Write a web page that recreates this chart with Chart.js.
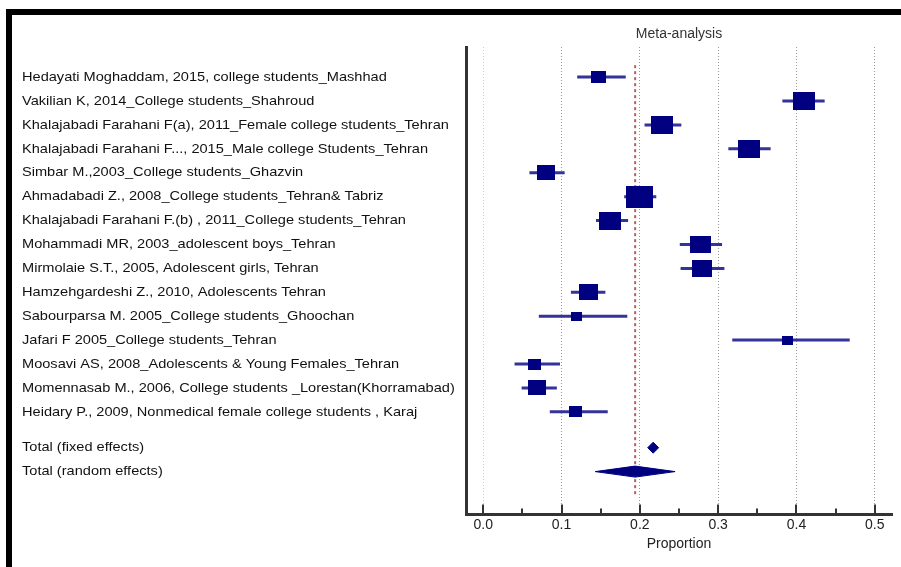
<!DOCTYPE html>
<html>
<head>
<meta charset="utf-8">
<script src="https://cdn.jsdelivr.net/npm/chart.js@4.4.1/dist/chart.umd.min.js"></script>
<style>
  html, body { margin: 0; padding: 0; background: #fff; }
  #wrap { position: relative; width: 901px; height: 567px; }
  #frame { position: absolute; left: 6px; top: 9px; right: 0; bottom: 0;
           border-top: 6px solid #000; border-left: 6px solid #000; pointer-events: none; }
</style>
</head>
<body>
<div id="wrap">
  <canvas id="forest"></canvas>
  <div id="frame"></div>
</div>
<script>
// estudos (linhas do forest plot)
const studyLabels = [
    "Hedayati Moghaddam, 2015, college students_Mashhad",
    "Vakilian K, 2014_College students_Shahroud",
    "Khalajabadi Farahani F(a), 2011_Female college students_Tehran",
    "Khalajabadi Farahani F..., 2015_Male college Students_Tehran",
    "Simbar M.,2003_College students_Ghazvin",
    "Ahmadabadi Z., 2008_College students_Tehran& Tabriz",
    "Khalajabadi Farahani F.(b) , 2011_College students_Tehran",
    "Mohammadi MR, 2003_adolescent boys_Tehran",
    "Mirmolaie S.T., 2005, Adolescent girls, Tehran",
    "Hamzehgardeshi Z., 2010, Adolescents Tehran",
    "Sabourparsa M. 2005_College students_Ghoochan",
    "Jafari F 2005_College students_Tehran",
    "Moosavi AS, 2008_Adolescents & Young Females_Tehran",
    "Momennasab M., 2006, College students _Lorestan(Khorramabad)",
    "Heidary P., 2009, Nonmedical female college students , Karaj"
];
const proportion = [0.147, 0.409, 0.228, 0.339, 0.080, 0.200, 0.162, 0.277, 0.280, 0.134, 0.119, 0.389, 0.065, 0.069, 0.118];
const ciLower    = [0.120, 0.382, 0.206, 0.313, 0.059, 0.180, 0.144, 0.251, 0.252, 0.112, 0.071, 0.318, 0.040, 0.049, 0.085];
const ciUpper    = [0.182, 0.436, 0.253, 0.367, 0.104, 0.221, 0.185, 0.305, 0.308, 0.156, 0.184, 0.468, 0.098, 0.094, 0.159];
const weights    = [4.2, 9.1, 9.1, 9.1, 6.1, 13.7, 9.1, 8.3, 7.5, 6.8, 2.3, 2.3, 3.2, 6.1, 3.2];

// totais
const totalLabels = ["Total (fixed effects)", "Total (random effects)"];
const totalEst    = [0.217, 0.194];
const totalLower  = [0.210, 0.143];
const totalUpper  = [0.224, 0.245];

const xTicks = [0.0, 0.1, 0.2, 0.3, 0.4, 0.5];

const NAVY = '#000080';
const totalRows = [studyLabels.length + 0.5, studyLabels.length + 1.5];

// quadrados proporcionais ao peso (área ~ peso)
function weightBox(w) {
    const maxW = Math.max(...weights);
    const side = 27 * Math.sqrt(w / maxW);
    const c = document.createElement('canvas');
    c.width = Math.round(side);
    c.height = Math.round(side * 0.83);
    const g = c.getContext('2d');
    g.fillStyle = NAVY;
    g.fillRect(0, 0, c.width, c.height);
    return c;
}

const ciData = [];
proportion.forEach((p, i) => {
    ciData.push({ x: ciLower[i], y: i }, { x: ciUpper[i], y: i }, { x: null, y: null });
});

function diamond(k) {
    const r = totalRows[k], h = 0.23;
    return [
        { x: totalLower[k], y: r },
        { x: totalEst[k], y: r - h },
        { x: totalUpper[k], y: r },
        { x: totalEst[k], y: r + h },
        { x: totalLower[k], y: r }
    ];
}

// rótulos à esquerda, alinhados às linhas da escala y
const rowLabels = {
    id: 'rowLabels',
    afterDraw(chart) {
        const ctx = chart.ctx, ys = chart.scales.y;
        const all = studyLabels.map((t, i) => [t, i]).concat(totalLabels.map((t, k) => [t, totalRows[k]]));
        ctx.save();
        ctx.fillStyle = '#111';
        ctx.font = '13.5px "Liberation Sans", Arial, sans-serif';
        ctx.textBaseline = 'middle';
        all.forEach(([t, r]) => {
            ctx.save();
            ctx.translate(22, ys.getPixelForValue(r));
            ctx.scale(1.08, 1);
            ctx.fillText(t, 0, 0);
            ctx.restore();
        });
        ctx.restore();
    }
};

// marcas do eixo x para dentro da área
const innerTicks = {
    id: 'innerTicks',
    afterDraw(chart) {
        const ctx = chart.ctx, xs = chart.scales.x, bottom = chart.chartArea.bottom;
        ctx.save();
        ctx.strokeStyle = '#333';
        ctx.lineWidth = 2;
        xs.ticks.forEach(t => {
            const major = Math.round(t.value * 100) % 10 === 0;
            const px = Math.round(xs.getPixelForValue(t.value));
            ctx.beginPath();
            ctx.moveTo(px, bottom - (major ? 10 : 6));
            ctx.lineTo(px, bottom);
            ctx.stroke();
        });
        ctx.restore();
    }
};

new Chart(document.getElementById('forest'), {
    type: 'scatter',
    data: {
        datasets: [
            {
                label: 'studies',
                data: proportion.map((p, i) => ({ x: p, y: i })),
                pointStyle: weights.map(weightBox),
                pointRadius: 6
            },
            {
                label: 'fixed',
                data: diamond(0),
                showLine: true, fill: 'shape', tension: 0,
                borderColor: NAVY, backgroundColor: NAVY, borderWidth: 1, pointRadius: 0
            },
            {
                label: 'random',
                data: diamond(1),
                showLine: true, fill: 'shape', tension: 0,
                borderColor: NAVY, backgroundColor: NAVY, borderWidth: 1, pointRadius: 0
            },
            {
                label: 'CI',
                data: ciData,
                showLine: true, spanGaps: false,
                borderColor: '#333399', borderWidth: 3, pointRadius: 0
            },
            {
                label: 'pooled',
                data: [{ x: totalEst[1], y: -0.5 }, { x: totalEst[1], y: 17.5 }],
                showLine: true,
                borderColor: '#b86060', borderWidth: 2, borderDash: [3, 3], pointRadius: 0
            }
        ]
    },
    options: {
        responsive: true,
        maintainAspectRatio: false,
        animation: false,
        layout: { padding: { left: 10, right: 9, top: 0, bottom: 10 } },
        plugins: {
            legend: { display: false },
            tooltip: { enabled: false },
            title: {
                display: true,
                text: 'Meta-analysis',
                fullSize: false,
                color: '#333',
                font: { family: '"Liberation Sans", Arial, sans-serif', size: 14, weight: 'normal' },
                padding: { top: 25.6, bottom: 4.6 }
            }
        },
        scales: {
            x: {
                type: 'linear',
                min: -0.022,
                max: 0.522,
                border: { color: '#333', width: 3, dash: [1, 2] },
                grid: {
                    drawTicks: false,
                    color: c => {
                        const v = Math.round(c.tick.value * 100);
                        if (v % 10 !== 0) return 'rgba(0,0,0,0)';
                        return v === 0 ? '#cccccc' : '#999999';
                    }
                },
                afterBuildTicks: s => {
                    const t = [];
                    for (let k = 0; k <= 10; k++) t.push({ value: k * 0.05 });
                    s.ticks = t;
                },
                ticks: {
                    padding: 2,
                    color: '#222',
                    font: { family: '"Liberation Sans", Arial, sans-serif', size: 14 },
                    callback: v => {
                        const r = Math.round(v * 100) / 100;
                        return xTicks.some(x => Math.abs(x - r) < 1e-6) ? r.toFixed(1) : '';
                    }
                },
                title: {
                    display: true,
                    text: 'Proportion',
                    color: '#222',
                    font: { family: '"Liberation Sans", Arial, sans-serif', size: 14 },
                    padding: { top: 1, bottom: 4 }
                }
            },
            y: {
                type: 'linear',
                reverse: true,
                min: -1.26,
                max: 18.29,
                grid: { display: false },
                border: { color: '#333', width: 3 },
                ticks: { display: false },
                afterFit: s => { s.width = 456; }
            }
        }
    },
    plugins: [rowLabels, innerTicks]
});
</script>
</body>
</html>
